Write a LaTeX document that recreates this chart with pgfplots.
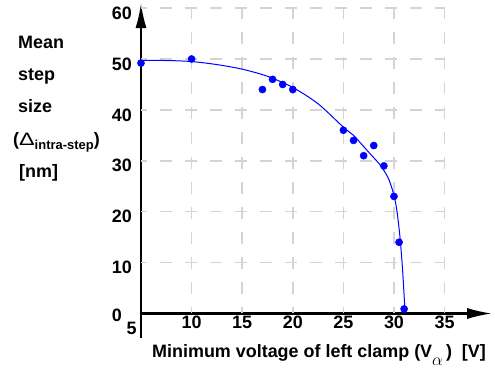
\documentclass[border=0pt]{standalone}
\usepackage{fontspec}
\setmainfont{Liberation Sans}
\usepackage{pgfplots}
\pgfplotsset{compat=1.18}
\usetikzlibrary{arrows.meta}
\definecolor{gridgray}{RGB}{212,212,212}
\definecolor{ptblue}{RGB}{0,0,255}
\begin{document}
\begin{tikzpicture}
\begin{axis}[
  x=10.12bp, y=5.09bp,
  xmin=5, xmax=39.7, ymin=-4.8, ymax=61.0,
  axis x line=middle, axis y line=left,
  axis line style={line width=2.2bp, -{Latex[length=25bp,width=11bp]}},
  xtick={10,15,...,35}, ytick={10,20,...,60},
  major tick length=0pt,
  tick label style={font=\bfseries\fontsize{18}{20}\selectfont},
  /pgf/number format/assume math mode=true,
  xticklabel style={anchor=north, inner sep=2bp},
  yticklabel style={anchor=east, inner sep=0pt, xshift=-9bp, yshift=-5bp},
  clip=false,
]
\pgfplotsinvokeforeach{10,15,...,35}{
  \draw[gridgray, line width=1.6bp, dash pattern=on 12bp off 13bp, dash phase=6bp] (axis cs:#1,0) -- (axis cs:#1,60);
}
\pgfplotsinvokeforeach{10,20,...,60}{
  \draw[gridgray, line width=1.6bp, dash pattern=on 12bp off 13bp, dash phase=6bp] (axis cs:5,#1) -- (axis cs:35,#1);
}
\addplot[ptblue, line width=1bp, smooth, no marks] coordinates {
(5,49.7) (7.5,49.7) (10,49.5) (12.5,48.9) (15,48.0) (17.5,46.6) (20,44.4)
(22.5,41.2) (25,36.6) (26,35.0) (27,32.8) (28,30.6) (28.5,29.5) (29,28.1)
(29.5,26.3) (30,23.2) (30.3,20.0) (30.6,14.8) (30.85,8.5) (31.1,0)
};
\addplot[only marks, mark=*, mark size=3.6bp, ptblue, mark options={draw=ptblue, fill=ptblue}] coordinates {
(5,49.2) (10,50) (17,44) (18,46) (19,45) (20,44) (25,36) (26,34)
(27,31) (28,33) (29,29) (30,23) (30.5,14) (31,0.9)
};
\coordinate (O) at (axis cs:5,0);
\end{axis}
\begin{scope}[font=\bfseries\fontsize{18}{20}\selectfont]
\node[anchor=base east, inner sep=0] at ([shift={(-19bp,-8bp)}]O) {0};
\node[anchor=north, inner sep=0] at ([shift={(-9.5bp,-8.5bp)}]O) {5};
\node[anchor=base west, inner sep=0] at ([shift={(-123bp,264.5bp)}]O) {Mean};
\node[anchor=base west, inner sep=0] at ([shift={(-123bp,232.5bp)}]O) {step};
\node[anchor=base west, inner sep=0] at ([shift={(-123bp,200.5bp)}]O) {size};
\node[anchor=base west, inner sep=0] at ([shift={(-128bp,167.5bp)}]O) {(\scalebox{1.3}[1.0]{\normalfont Δ}\raisebox{-4bp}{\fontsize{13}{14}\selectfont intra-step})};
\node[anchor=base west, inner sep=0] at ([shift={(-122bp,135.5bp)}]O) {[nm]};
\node[anchor=base west, inner sep=0] at ([shift={(11bp,-44.5bp)}]O) {Minimum voltage of left clamp (V\raisebox{-8bp}{\normalfont$\alpha$}\,)~~[V]};
\end{scope}
\pgfresetboundingbox
\path[use as bounding box] ([shift={(-141bp,-67.5bp)}]O) rectangle ([shift={(354bp,313.5bp)}]O);
\end{tikzpicture}
\end{document}
